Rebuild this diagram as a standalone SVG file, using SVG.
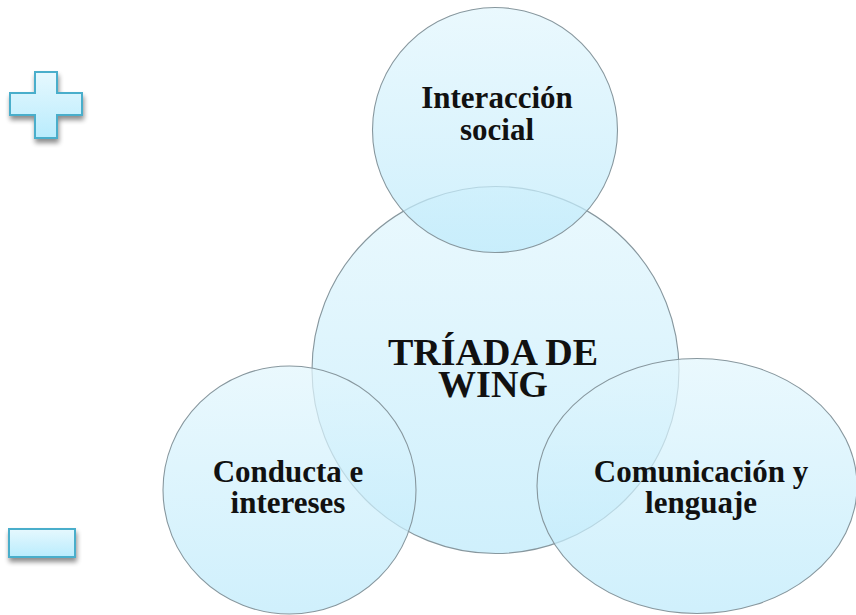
<svg xmlns="http://www.w3.org/2000/svg" width="856" height="615" viewBox="0 0 856 615">
<defs>
<linearGradient id="cg" x1="0" y1="0" x2="0" y2="1">
<stop offset="0" stop-color="#e2f6fd"/>
<stop offset="1" stop-color="#bdeafb"/>
</linearGradient>
<linearGradient id="ig" x1="0" y1="0" x2="0" y2="1">
<stop offset="0" stop-color="#e6f8fe"/>
<stop offset="1" stop-color="#b9ecfd"/>
</linearGradient>
<filter id="sh" x="-30%" y="-30%" width="160%" height="170%">
<feGaussianBlur in="SourceAlpha" stdDeviation="2.5"/>
<feOffset dx="1" dy="4" result="b"/>
<feComponentTransfer><feFuncA type="linear" slope="0.45"/></feComponentTransfer>
<feMerge><feMergeNode/><feMergeNode in="SourceGraphic"/></feMerge>
</filter>
</defs>
<style>
.c{fill:url(#cg);fill-opacity:0.72;stroke:#87979e;stroke-width:1.1}
.t{font-family:"Liberation Serif","Times New Roman",serif;font-weight:bold;fill:#111;text-anchor:middle}
.n{font-size:31px}
.m{font-size:38px}
.i{fill:url(#ig);stroke:#4aaecb;stroke-width:2}
</style>
<g id="plus" filter="url(#sh)">
<path class="i" d="M35 72H57V93H82V115H57V138H35V115H10V93H35Z"/>
</g>
<g id="minus" filter="url(#sh)">
<rect class="i" x="9" y="529" width="66" height="28"/>
</g>
<g id="center">
<circle class="c" cx="495.5" cy="370" r="183.5"/>
</g>
<g id="top">
<circle class="c" cx="495" cy="130" r="122.5"/>
</g>
<g id="left">
<ellipse class="c" cx="289.5" cy="490" rx="126.5" ry="124"/>
</g>
<g id="right">
<ellipse class="c" cx="697" cy="486" rx="160" ry="127.5"/>
</g>
<g id="labels">
<text class="t n" x="497" y="108">Interacción</text>
<text class="t n" x="497" y="140">social</text>
<text class="t m" x="493" y="365">TRÍADA DE</text>
<text class="t m" x="493" y="397">WING</text>
<text class="t n" x="288" y="482">Conducta e</text>
<text class="t n" x="288" y="513">intereses</text>
<text class="t n" x="701" y="482">Comunicación y</text>
<text class="t n" x="701" y="513">lenguaje</text>
</g>
<g id="connectors"/>
</svg>
